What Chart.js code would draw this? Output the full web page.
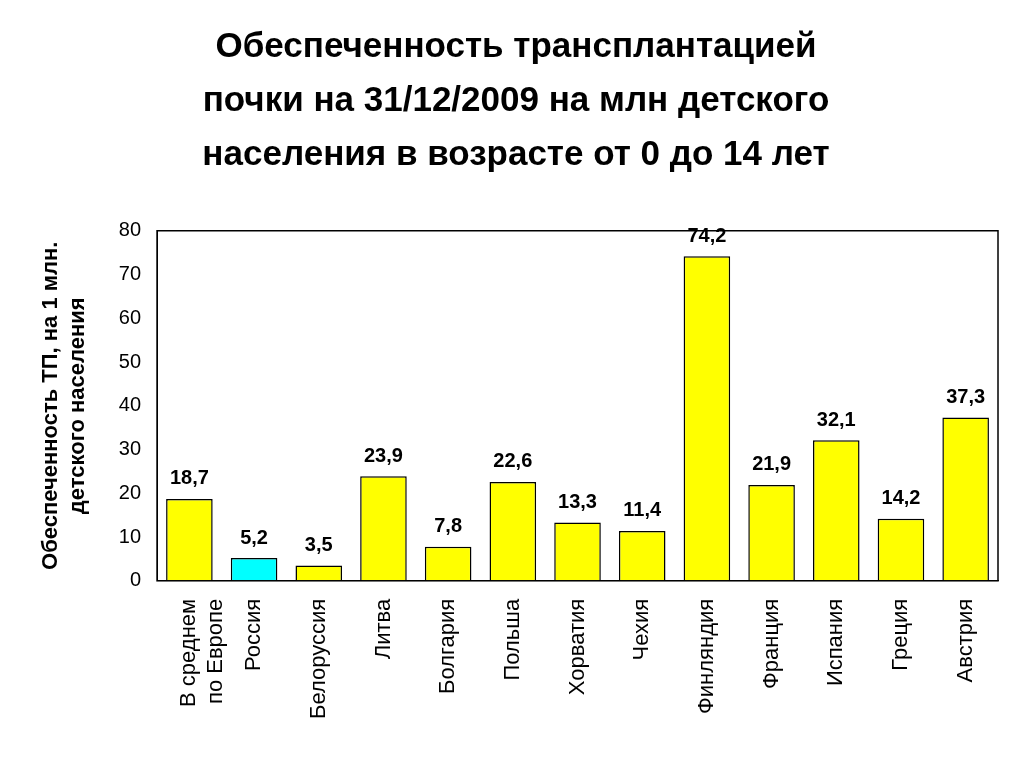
<!DOCTYPE html>
<html>
<head>
<meta charset="utf-8">
<script src="https://cdn.jsdelivr.net/npm/chart.js@4"></script>
<style>
  html, body { margin: 0; padding: 0; background: #fff; }
  #wrap { width: 1024px; height: 767px; }
</style>
</head>
<body>
<div id="wrap"><canvas id="myChart" width="1024" height="767"></canvas></div>
<script>
const titleLines = [
  "Обеспеченность трансплантацией",
  "почки на 31/12/2009 на млн детского",
  "населения в возрасте от 0 до 14 лет",
];
const axisTitle = ["Обеспеченность ТП, на 1 млн.", "детского населения"];
const countries = [
  ["В среднем", "по Европе"], "Россия", "Белоруссия", "Литва", "Болгария", "Польша",
  "Хорватия", "Чехия", "Финляндия", "Франция", "Испания", "Греция", "Австрия",
];
const values = [18.7, 5.2, 3.5, 23.9, 7.8, 22.6, 13.3, 11.4, 74.2, 21.9, 32.1, 14.2, 37.3];
const barColors = values.map((v, i) => (i === 1 ? "#00FFFF" : "#FFFF00"));

const FONT = "'Liberation Sans', Arial, sans-serif";

// draws value labels above each bar, comma as decimal separator
const valueLabels = {
  id: "valueLabels",
  afterDatasetsDraw(chart) {
    const ctx = chart.ctx;
    const meta = chart.getDatasetMeta(0);
    ctx.save();
    ctx.font = "bold 20px " + FONT;
    ctx.fillStyle = "#000";
    ctx.textAlign = "center";
    ctx.textBaseline = "bottom";
    meta.data.forEach((bar, i) => {
      ctx.fillText(values[i].toFixed(1).replace(".", ","), bar.x, bar.y - 10);
    });
    ctx.restore();
  },
};

// black frame around the plot area
const frame = {
  id: "frame",
  afterDraw(chart) {
    const a = chart.chartArea;
    const ctx = chart.ctx;
    ctx.save();
    ctx.strokeStyle = "#000";
    ctx.lineWidth = 1.5;
    ctx.strokeRect(a.left, a.top, a.right - a.left, a.bottom - a.top);
    ctx.restore();
  },
};

new Chart(document.getElementById("myChart").getContext("2d"), {
  type: "bar",
  data: {
    labels: countries,
    datasets: [
      {
        data: values,
        backgroundColor: barColors,
        borderColor: "#000",
        borderWidth: 1.5,
        barPercentage: 0.72,
        categoryPercentage: 1,
      },
    ],
  },
  options: {
    responsive: false,
    animation: false,
    layout: { padding: { left: 34, right: 26, top: 20, bottom: 38 } },
    plugins: {
      legend: { display: false },
      tooltip: { enabled: false },
      title: {
        display: true,
        text: titleLines,
        color: "#000",
        font: { family: FONT, size: 35, weight: "bold", lineHeight: 1.55 },
        padding: { top: 0, bottom: 48 },
      },
    },
    scales: {
      x: {
        grid: { display: false },
        border: { color: "#000" },
        ticks: {
          color: "#000",
          font: { family: FONT, size: 22 },
          maxRotation: 90,
          minRotation: 90,
          autoSkip: false,
          padding: 10,
        },
      },
      y: {
        min: 0,
        max: 80,
        grid: { display: false, drawTicks: true },
        border: { color: "#000" },
        ticks: {
          stepSize: 10,
          color: "#000",
          font: { family: FONT, size: 20 },
          padding: 8,
        },
        title: {
          display: true,
          text: axisTitle,
          color: "#000",
          font: { family: FONT, size: 22, weight: "bold" },
          padding: { bottom: 20 },
        },
      },
    },
  },
  plugins: [valueLabels, frame],
});
</script>
</body>
</html>
